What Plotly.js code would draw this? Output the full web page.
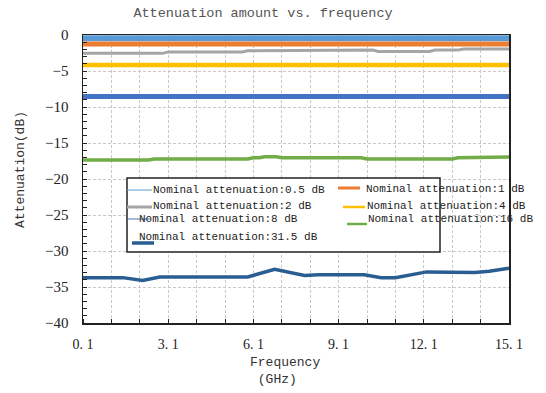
<!DOCTYPE html>
<html>
<head>
<meta charset="utf-8">
<script src="https://cdn.plot.ly/plotly-3.0.1.min.js"></script>
<style>
  html, body { margin: 0; padding: 0; background: #ffffff; }
  #chart { width: 546px; height: 393px; }
</style>
</head>
<body>
<div id="chart"></div>
<script>
// Measured attenuation (dB) against frequency (GHz) for each nominal setting
const seriesNames = [
  "Nominal attenuation:0.5 dB",
  "Nominal attenuation:1 dB",
  "Nominal attenuation:2 dB",
  "Nominal attenuation:4 dB",
  "Nominal attenuation:8 dB",
  "Nominal attenuation:16 dB",
  "Nominal attenuation:31.5 dB"
];

const freq05 = [0.1, 15.1];
const att05 = [-0.45, -0.45];

const freq1 = [0.1, 15.1];
const att1 = [-1.25, -1.25];

const freq2 = [0.1, 2.9, 3.1, 5.7, 5.9, 7.5, 7.7, 10.3, 10.5, 12.3, 12.5, 13.3, 13.5, 15.1];
const att2 = [-2.55, -2.55, -2.35, -2.35, -2.2, -2.2, -2.1, -2.1, -2.3, -2.3, -2.1, -2.1, -1.95, -1.95];

const freq4 = [0.1, 15.1];
const att4 = [-4.15, -4.15];

const freq8 = [0.1, 15.1];
const att8 = [-8.55, -8.55];

const freq16 = [0.1, 2.4, 2.6, 5.9, 6.1, 6.3, 6.5, 6.9, 7.1, 9.9, 10.1, 13.1, 13.3, 13.9, 14.1, 15.1];
const att16 = [-17.35, -17.35, -17.22, -17.22, -17.05, -17.05, -16.9, -16.9, -17.05, -17.05, -17.22, -17.22, -17.05, -17.05, -16.95, -16.95];

const freq315 = [0.1, 1.5, 2.2, 2.8, 5.9, 6.85, 7.9, 8.4, 10.0, 10.6, 11.1, 12.2, 13.0, 13.9, 14.4, 15.1];
const att315 = [-33.7, -33.7, -34.1, -33.6, -33.6, -32.55, -33.4, -33.3, -33.3, -33.7, -33.7, -32.9, -32.95, -33.0, -32.8, -32.4];

const xTickVals = [0.1, 3.1, 6.1, 9.1, 12.1, 15.1];
const xTickText = ["0. 1", "3. 1", "6. 1", "9. 1", "12. 1", "15. 1"];

const colors = ["#5b9bd5", "#ed7d31", "#a5a5a5", "#ffc000", "#4472c4", "#70ad47", "#2a5e92"];
const widths = [6, 5, 3, 4.5, 5, 3.5, 3.5];

const freqs = [freq05, freq1, freq2, freq4, freq8, freq16, freq315];
const atts = [att05, att1, att2, att4, att8, att16, att315];

const traces = freqs.map((f, i) => ({
  type: "scatter",
  mode: "lines",
  x: f,
  y: atts[i],
  name: seriesNames[i],
  line: { color: colors[i], width: widths[i] },
  showlegend: false
}));

// plot area in page pixels
const W = 546, H = 393;
const L = 83, R = 509, T = 35, B = 323;
const px = v => (v - L) / (R - L);
const py = v => (B - v) / (B - T);

const monoFont = "Liberation Mono, Courier New, monospace";
const serifFont = "Liberation Serif, Times New Roman, serif";

// hand-placed legend: box, sample strokes and labels
const legendItems = [
  { lx: [127, 152], ly: 190, lw: 1, tx: 152, ty: 190 },
  { lx: [338, 360], ly: 188, lw: 3, tx: 365, ty: 189 },
  { lx: [127, 152], ly: 207, lw: 3, tx: 152, ty: 206 },
  { lx: [343, 365], ly: 207, lw: 2.5, tx: 366, ty: 206 },
  { lx: [127, 150], ly: 219, lw: 1, tx: 138, ty: 219 },
  { lx: [347, 367], ly: 224, lw: 2.5, tx: 367, ty: 219 },
  { lx: [132, 154], ly: 243, lw: 3.5, tx: 138, ty: 237 }
];

const shapes = [{
  type: "rect", xref: "paper", yref: "paper", layer: "above",
  x0: px(127), x1: px(440), y0: py(252), y1: py(178),
  line: { color: "#222222", width: 1.5 }, fillcolor: "#ffffff"
}];
const annotations = [];
legendItems.forEach((it, i) => {
  shapes.push({
    type: "line", xref: "paper", yref: "paper", layer: "above",
    x0: px(it.lx[0]), x1: px(it.lx[1]), y0: py(it.ly), y1: py(it.ly),
    line: { color: colors[i], width: it.lw }
  });
  annotations.push({
    xref: "paper", yref: "paper", x: px(it.tx), y: py(it.ty),
    xanchor: "left", yanchor: "middle", showarrow: false,
    text: seriesNames[i], borderpad: 0,
    font: { family: monoFont, size: 11, color: "#222222" }
  });
});

// axis titles
annotations.push({
  xref: "paper", yref: "paper", x: px(20), y: py(170),
  xanchor: "center", yanchor: "middle", showarrow: false,
  text: "Attenuation(dB)", textangle: -90,
  font: { family: monoFont, size: 13, color: "#333333" }
});
annotations.push({
  xref: "paper", yref: "paper", x: px(248), y: py(371),
  xanchor: "left", yanchor: "middle", showarrow: false, align: "left",
  text: "Frequency<br> (GHz)",
  font: { family: monoFont, size: 13, color: "#333333" }
});

const gridStyle = { color: "#c8c8c8", dash: "3px,2px" };

const layout = {
  width: W, height: H,
  margin: { l: L, r: W - R, t: T, b: H - B, pad: 0 },
  paper_bgcolor: "#ffffff", plot_bgcolor: "#ffffff",
  title: {
    text: "Attenuation amount vs. frequency",
    xref: "container", yref: "container",
    x: 263 / W, xanchor: "center", y: 1 - 12 / H, yanchor: "middle",
    font: { family: monoFont, size: 13.5, color: "#555555" }
  },
  xaxis: {
    range: [0.1, 15.1],
    tickmode: "array", tickvals: xTickVals, ticktext: xTickText,
    ticks: "", showgrid: true, gridcolor: gridStyle.color, griddash: gridStyle.dash, gridwidth: 1,
    minor: { dtick: 1, tick0: 0.1, showgrid: true, gridcolor: gridStyle.color, griddash: gridStyle.dash,
             ticks: "inside", ticklen: 4, tickcolor: "#222222" },
    showline: true, linecolor: "#222222", linewidth: 1.5, mirror: true,
    zeroline: false,
    tickfont: { family: serifFont, size: 14, color: "#222222" },
    ticklabelstandoff: 8
  },
  yaxis: {
    range: [-40, 0],
    dtick: 5, tick0: 0,
    ticks: "inside", ticklen: 4, tickcolor: "#222222",
    showgrid: true, gridcolor: gridStyle.color, griddash: gridStyle.dash, gridwidth: 1,
    minor: { dtick: 1, ticks: "inside", ticklen: 4, tickcolor: "#222222", showgrid: false },
    showline: true, linecolor: "#222222", linewidth: 1.5, mirror: true,
    zeroline: false,
    tickfont: { family: serifFont, size: 15, color: "#222222" },
    ticklabelstandoff: 10
  },
  shapes: shapes,
  annotations: annotations,
  showlegend: false
};

Plotly.newPlot("chart", traces, layout, { displayModeBar: false, staticPlot: true });
</script>
</body>
</html>
